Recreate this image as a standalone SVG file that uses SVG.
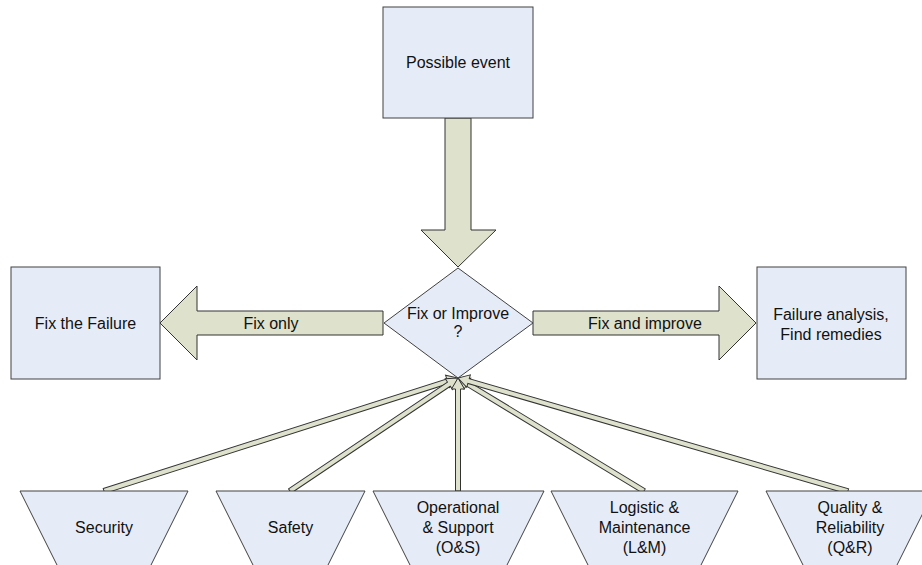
<svg xmlns="http://www.w3.org/2000/svg" width="922" height="565" viewBox="0 0 922 565">
<style>
.box{fill:#e6ecf7;stroke:#404040;stroke-width:1}
.arw{fill:#dee1cc;stroke:#333333;stroke-width:1;stroke-linejoin:miter}
.t{font-family:"Liberation Sans",Arial,sans-serif;font-size:16px;fill:#111111;text-anchor:middle}
</style>
<defs>
<path id="thin" d="M-10,-2.5 L-10,-6.5 L0,0 L-10,6.5 L-10,2.5"/>
</defs>
<rect width="922" height="565" fill="#ffffff"/>

<g id="connectors">
  <polygon class="arw" points="445,118 471,118 471,230 496,230 458,267 421,230 445,230"/>
  <polygon class="arw" points="383,311 197,311 197,286 160,323 197,360 197,335 383,335"/>
  <polygon class="arw" points="533,311 719,311 719,286 756,323 719,360 719,335 533,335"/>
  <text class="t" x="271" y="329">Fix only</text>
  <text class="t" x="645" y="329">Fix and improve</text>
  <g transform="translate(458,378) rotate(-17.7)"><polygon class="arw" points="-371.6,-2.5 -11,-2.5 -11,-6.5 0,0 -11,6.5 -11,2.5 -371.6,2.5"/></g>
  <g transform="translate(458,378) rotate(-33.9)"><polygon class="arw" points="-202.5,-2.5 -11,-2.5 -11,-6.5 0,0 -11,6.5 -11,2.5 -202.5,2.5"/></g>
  <g transform="translate(458,378) rotate(-148.7)"><polygon class="arw" points="-217.6,-2.5 -11,-2.5 -11,-6.5 0,0 -11,6.5 -11,2.5 -217.6,2.5"/></g>
  <g transform="translate(458,378) rotate(-163.8)"><polygon class="arw" points="-406,-2.5 -11,-2.5 -11,-6.5 0,0 -11,6.5 -11,2.5 -406,2.5"/></g>
  <g transform="translate(458,378) rotate(-90)"><polygon class="arw" points="-113,-2.5 -11,-2.5 -11,-6.5 0,0 -11,6.5 -11,2.5 -113,2.5"/></g>
</g>

<g id="possible-event">
  <rect class="box" x="383" y="7" width="150" height="111"/>
  <text class="t" x="458" y="68">Possible event</text>
</g>

<g id="fix-or-improve">
  <polygon class="box" points="458,268 533,323 458,378 384,323"/>
  <text class="t" x="458" y="319">Fix or Improve</text>
  <text class="t" x="458" y="337">?</text>
</g>

<g id="fix-the-failure">
  <rect class="box" x="11" y="267" width="149" height="112"/>
  <text class="t" x="85.5" y="329">Fix the Failure</text>
</g>

<g id="failure-analysis">
  <rect class="box" x="757" y="267" width="149" height="112"/>
  <text class="t" x="831" y="320">Failure analysis,</text>
  <text class="t" x="831" y="340">Find remedies</text>
</g>

<g id="security">
  <polygon class="box" points="20,491 188,491 133,601 75,601"/>
  <text class="t" x="104" y="533">Security</text>
</g>

<g id="safety">
  <polygon class="box" points="216,491 365,491 310,601 271,601"/>
  <text class="t" x="290.5" y="533">Safety</text>
</g>

<g id="os">
  <polygon class="box" points="373,491 544,491 489,601 428,601"/>
  <text class="t" x="458" y="513">Operational</text>
  <text class="t" x="458" y="533">&amp; Support</text>
  <text class="t" x="458" y="553">(O&amp;S)</text>
</g>

<g id="lm">
  <polygon class="box" points="551,491 738,491 683,601 606,601"/>
  <text class="t" x="644.5" y="513">Logistic &amp;</text>
  <text class="t" x="644.5" y="533">Maintenance</text>
  <text class="t" x="644.5" y="553">(L&amp;M)</text>
</g>

<g id="qr">
  <polygon class="box" points="766,491 934,491 879,601 821,601"/>
  <text class="t" x="850" y="513">Quality &amp;</text>
  <text class="t" x="850" y="533">Reliability</text>
  <text class="t" x="850" y="553">(Q&amp;R)</text>
</g>
</svg>
